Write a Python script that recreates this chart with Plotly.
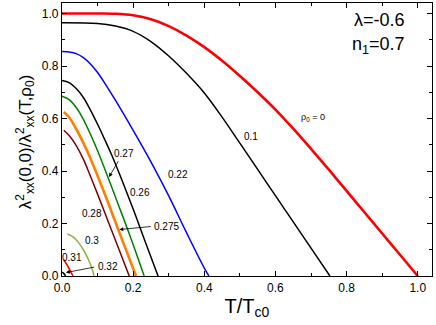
import plotly.graph_objects as go

# ---- data ----
T_r0 = [0, 0.1, 0.15, 0.2, 0.25, 0.3, 0.35, 0.4, 0.45, 0.5, 0.55, 0.6, 0.65, 0.7, 0.75, 0.8, 0.85, 0.9, 0.95, 1.0]
y_r0 = [1.0, 1.0, 0.999, 0.993, 0.978, 0.952, 0.916, 0.872, 0.82, 0.762, 0.70, 0.634, 0.561, 0.484, 0.405, 0.324, 0.243, 0.162, 0.081, 0.0]

T_01 = [0, 0.1, 0.15, 0.2, 0.25, 0.3, 0.35, 0.4, 0.45, 0.5, 0.55, 0.6, 0.65, 0.7, 0.753]
y_01 = [0.965, 0.962, 0.952, 0.932, 0.893, 0.838, 0.772, 0.697, 0.605, 0.506, 0.406, 0.306, 0.206, 0.106, 0.0]

T_022 = [0, 0.02, 0.04, 0.06, 0.08, 0.1, 0.12, 0.15, 0.2, 0.25, 0.3, 0.35, 0.4, 0.413]
y_022 = [0.855, 0.853, 0.847, 0.832, 0.808, 0.775, 0.735, 0.67, 0.555, 0.435, 0.305, 0.165, 0.03, 0.0]

T_026 = [0, 0.02, 0.04, 0.06, 0.08, 0.1, 0.12, 0.14, 0.17, 0.2, 0.23, 0.27]
y_026 = [0.745, 0.737, 0.714, 0.68, 0.632, 0.578, 0.52, 0.46, 0.36, 0.255, 0.145, 0.0]

T_027 = [0, 0.02, 0.04, 0.06, 0.08, 0.1, 0.13, 0.16, 0.19, 0.231]
y_027 = [0.685, 0.672, 0.642, 0.597, 0.54, 0.477, 0.373, 0.266, 0.157, 0.0]

T_0275 = [0.005, 0.02, 0.04, 0.06, 0.08, 0.1, 0.13, 0.16, 0.208]
y_0275 = [0.625, 0.605, 0.56, 0.507, 0.448, 0.382, 0.278, 0.17, 0.0]

T_028 = [0.005, 0.02, 0.04, 0.06, 0.08, 0.1, 0.13, 0.16, 0.189]
y_028 = [0.555, 0.535, 0.497, 0.445, 0.38, 0.312, 0.207, 0.102, 0.0]

T_03 = [0.015, 0.03, 0.045, 0.06, 0.075, 0.085, 0.09]
y_03 = [0.16, 0.15, 0.13, 0.1, 0.06, 0.025, 0.0]

T_031 = [0.005, 0.015, 0.025, 0.031]
y_031 = [0.062, 0.04, 0.015, 0.0]

T_032 = [0.0, 0.005, 0.01]
y_032 = [0.015, 0.01, 0.0]

FONT = "Liberation Sans, Arial, sans-serif"

series = [
    (T_r0, y_r0, "#FF0000", 2.6),
    (T_01, y_01, "#000000", 1.5),
    (T_022, y_022, "#0000FF", 1.5),
    (T_026, y_026, "#000000", 1.5),
    (T_027, y_027, "#008000", 1.5),
    (T_0275, y_0275, "#FF8000", 2.6),
    (T_028, y_028, "#800000", 1.5),
    (T_03, y_03, "#8DB33A", 1.5),
    (T_031, y_031, "#FF0000", 1.5),
    (T_032, y_032, "#000000", 1.5),
]

fig = go.Figure()
for T, y, c, w in series:
    fig.add_trace(go.Scatter(x=T, y=y, mode="lines", line=dict(color=c, width=w, shape="spline", smoothing=1.0),
                             showlegend=False, hoverinfo="skip"))

labels = [
    ("ρ<sub>0</sub> = 0", 0.705, 0.605, 9),
    ("0.1", 0.53, 0.53, 10),
    ("0.22", 0.325, 0.386, 10),
    ("0.26", 0.22, 0.318, 10),
    ("0.27", 0.175, 0.467, 10),
    ("0.275", 0.293, 0.189, 10),
    ("0.28", 0.085, 0.238, 10),
    ("0.3", 0.084, 0.134, 10),
    ("0.31", 0.029, 0.072, 10),
    ("0.32", 0.128, 0.037, 10),
]
for txt, x, y, s in labels:
    fig.add_annotation(x=x, y=y, text=txt, showarrow=False, font=dict(family=FONT, size=s, color="black"))

# arrows (tail at label, head at curve)
arrows = [
    (0.161, 0.443, 0.132, 0.377),
    (0.254, 0.189, 0.161, 0.177),
    (0.095, 0.035, 0.011, 0.013),
]
for x0, y0, x1, y1 in arrows:
    fig.add_annotation(x=x1, y=y1, ax=x0, ay=y0, axref="x", ayref="y", xref="x", yref="y", text="",
                       showarrow=True, arrowhead=2, arrowsize=1, arrowwidth=0.8, arrowcolor="black",
                       font=dict(family=FONT, size=10))

fig.add_annotation(x=0.97, y=0.975, xref="x", yref="y", text="λ=-0.6", showarrow=False, xanchor="right",
                   font=dict(family=FONT, size=18, color="black"))
fig.add_annotation(x=0.97, y=0.88, xref="x", yref="y", text="n<sub>1</sub>=0.7", showarrow=False, xanchor="right",
                   font=dict(family=FONT, size=18, color="black"))

# y-axis title (placed as rotated annotation to match reference position)
fig.add_annotation(x=-0.1, y=0.49, xref="paper", yref="paper", textangle=-90, showarrow=False,
                   xanchor="center", yanchor="middle",
                   text="λ<sup>2</sup><sub>xx</sub>(0,0)/λ<sup>2</sup><sub>xx</sub>(T,ρ<sub>0</sub>)",
                   font=dict(family=FONT, size=17, color="black"))

axis_common = dict(showline=True, linecolor="black", linewidth=1.2, mirror="allticks", ticks="inside",
                   ticklen=5, tickwidth=1, tickcolor="black", showgrid=False, zeroline=False, automargin=False,
                   tickfont=dict(family=FONT, size=12, color="black"),
                   minor=dict(ticks="inside", ticklen=3, tickwidth=1, dtick=0.1, tickcolor="black"))

fig.update_xaxes(range=[0, 1.04], dtick=0.2, tick0=0, tickformat=".1f",
                 title=dict(text="T/T<sub>c0</sub>", font=dict(family=FONT, size=20, color="black"), standoff=4),
                 **axis_common)
fig.update_yaxes(range=[0, 1.04], dtick=0.2, tick0=0, tickformat=".1f", **axis_common)

fig.update_layout(width=436, height=325, margin=dict(l=62, r=4, t=3, b=49),
                  plot_bgcolor="white", paper_bgcolor="white")

fig.write_html("out.html", config={"displayModeBar": False},
               post_script="document.body.style.margin='0';document.body.style.overflow='hidden';")
